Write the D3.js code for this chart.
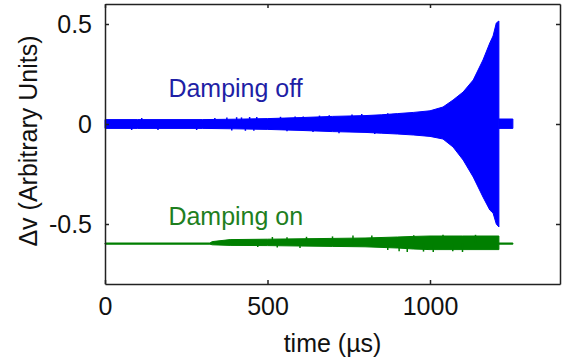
<!DOCTYPE html>
<html>
<head>
<meta charset="utf-8">
<script src="https://cdn.jsdelivr.net/npm/d3@7"></script>
<style>
  body { margin: 0; background: #fff; }
  svg { display: block; font-family: "Liberation Sans", Arial, sans-serif; }
  .axis path, .axis line { stroke: #222; stroke-width: 1.5; }
  .axis text { fill: #111; font-size: 25px; }
</style>
</head>
<body>
<div id="chart"></div>
<script>
// x ticks / y ticks
const xTicks = [0, 500, 1000];
const xTickLabels = ["0", "500", "1000"];
const yTicks = [-0.5, 0, 0.5];
const yTickLabels = ["-0.5", "0", "0.5"];

// damping off envelope (time in us, upper/lower of the oscillation)
const offTime  = [0, 100, 200, 300, 400, 500, 600, 700, 800, 850, 900, 950, 1000, 1040, 1071, 1102, 1133, 1163, 1184, 1194, 1204, 1212];
const offUpper = [0.022, 0.022, 0.022, 0.022, 0.024, 0.027, 0.032, 0.038, 0.042, 0.046, 0.052, 0.058, 0.066, 0.085, 0.12, 0.16, 0.22, 0.32, 0.405, 0.44, 0.505, 0.515];
const offLower = [-0.022, -0.022, -0.022, -0.022, -0.024, -0.027, -0.032, -0.038, -0.042, -0.046, -0.05, -0.055, -0.062, -0.075, -0.115, -0.18, -0.265, -0.365, -0.43, -0.445, -0.5, -0.515];
// tail after the drive stops
const offTailTime  = [1212, 1255];
const offTailUpper = [0.025, 0.025];
const offTailLower = [-0.022, -0.022];
// single spikes sticking out of the band
const offSpikeTime = [82, 113, 163, 282, 338, 375, 390, 405, 420, 432, 445, 458, 467, 540, 560, 585, 610, 640, 660, 690, 720, 760, 790, 830, 870];
const offSpikeVal  = [-0.03, 0.03, -0.03, -0.03, 0.03, 0.032, -0.032, 0.034, 0.033, -0.034, 0.035, -0.034, 0.035, 0.036, -0.036, 0.037, 0.038, -0.04, 0.042, 0.044, -0.046, 0.048, 0.05, -0.05, 0.054];

// damping on envelope
const onTime  = [0, 323, 330, 385, 500, 600, 700, 800, 900, 950, 1000, 1100, 1200, 1212];
const onUpper = [-0.595, -0.595, -0.588, -0.578, -0.576, -0.574, -0.572, -0.57, -0.565, -0.562, -0.56, -0.56, -0.56, -0.56];
const onLower = [-0.601, -0.601, -0.604, -0.607, -0.608, -0.61, -0.612, -0.614, -0.62, -0.625, -0.628, -0.628, -0.628, -0.628];
const onTailTime  = [1212, 1255];
const onTailUpper = [-0.595, -0.595];
const onTailLower = [-0.601, -0.601];
const onSpikeTime = [345, 470, 515, 530, 560, 600, 620, 700, 763, 821, 870, 905, 930, 950, 980, 1010, 1040, 1070, 1100, 1140];
const onSpikeVal  = [-0.585, -0.615, -0.565, -0.618, -0.566, -0.62, -0.564, -0.562, -0.558, -0.557, -0.63, -0.636, -0.64, -0.556, -0.638, -0.64, -0.554, -0.636, -0.64, -0.554];

const width = 562;
const height = 359;
const margin = { left: 105, top: 4, right: 2, bottom: 75 };

const svg = d3.select("#chart")
    .append("svg")
    .attr("width", width)
    .attr("height", height);

const x = d3.scaleLinear()
    .domain([0, 1400])
    .range([margin.left, width - margin.right]);

const y = d3.scaleLinear()
    .domain([-0.8, 0.6])
    .range([height - margin.bottom, margin.top]);

function band(times, hi, lo) {
    return times.map((t, i) => ({ t: t, hi: hi[i], lo: lo[i] }));
}

const area = d3.area()
    .x(d => x(d.t))
    .y0(d => y(d.lo))
    .y1(d => y(d.hi));

function drawSeries(color, main, tail, spikeT, spikeV, base) {
    svg.append("path")
        .datum(main)
        .attr("d", area)
        .attr("fill", color)
        .attr("stroke", color)
        .attr("stroke-width", 1);
    svg.append("path")
        .datum(tail)
        .attr("d", area)
        .attr("fill", color)
        .attr("stroke", color)
        .attr("stroke-width", 1);
    svg.selectAll(null)
        .data(spikeT.map((t, i) => ({ t: t, v: spikeV[i] })))
        .enter()
        .append("line")
        .attr("x1", d => x(d.t))
        .attr("x2", d => x(d.t))
        .attr("y1", d => y(base))
        .attr("y2", d => y(d.v))
        .attr("stroke", color)
        .attr("stroke-width", 1.5);
}

drawSeries("#0000ff",
    band(offTime, offUpper, offLower),
    band(offTailTime, offTailUpper, offTailLower),
    offSpikeTime, offSpikeVal, 0);

drawSeries("#007f00",
    band(onTime, onUpper, onLower),
    band(onTailTime, onTailUpper, onTailLower),
    onSpikeTime, onSpikeVal, -0.598);

// axes, ticks point inward
const plotBottom = height - margin.bottom;
const plotRight = width - margin.right;

svg.append("g")
    .attr("class", "axis")
    .attr("transform", `translate(0,${plotBottom})`)
    .call(d3.axisBottom(x).tickValues(xTicks).tickFormat((d, i) => xTickLabels[i]).tickSizeInner(-4).tickSizeOuter(0).tickPadding(13));

svg.append("g")
    .attr("class", "axis")
    .attr("transform", `translate(0,${margin.top})`)
    .call(d3.axisTop(x).tickValues(xTicks).tickFormat("").tickSizeInner(-4).tickSizeOuter(0));

svg.append("g")
    .attr("class", "axis")
    .attr("transform", `translate(${margin.left},0)`)
    .call(d3.axisLeft(y).tickValues(yTicks).tickFormat((d, i) => yTickLabels[i]).tickSizeInner(-4).tickSizeOuter(0).tickPadding(13));

svg.append("g")
    .attr("class", "axis")
    .attr("transform", `translate(${plotRight},0)`)
    .call(d3.axisRight(y).tickValues(yTicks).tickFormat("").tickSizeInner(-4).tickSizeOuter(0));

// labels
svg.append("text")
    .attr("x", (margin.left + plotRight) / 2)
    .attr("y", 352)
    .attr("text-anchor", "middle")
    .attr("font-size", 25)
    .attr("fill", "#111")
    .text("time (\u00b5s)");

svg.append("text")
    .attr("transform", "translate(37,141) rotate(-90)")
    .attr("text-anchor", "middle")
    .attr("font-size", 25)
    .attr("fill", "#111")
    .text("\u0394v (Arbitrary Units)");

svg.append("text")
    .attr("x", x(195))
    .attr("y", y(0.135))
    .attr("font-size", 25)
    .attr("fill", "#1f1fa6")
    .text("Damping off");

svg.append("text")
    .attr("x", x(195))
    .attr("y", y(-0.505))
    .attr("font-size", 25)
    .attr("fill", "#1f7f1f")
    .text("Damping on");
</script>
</body>
</html>
